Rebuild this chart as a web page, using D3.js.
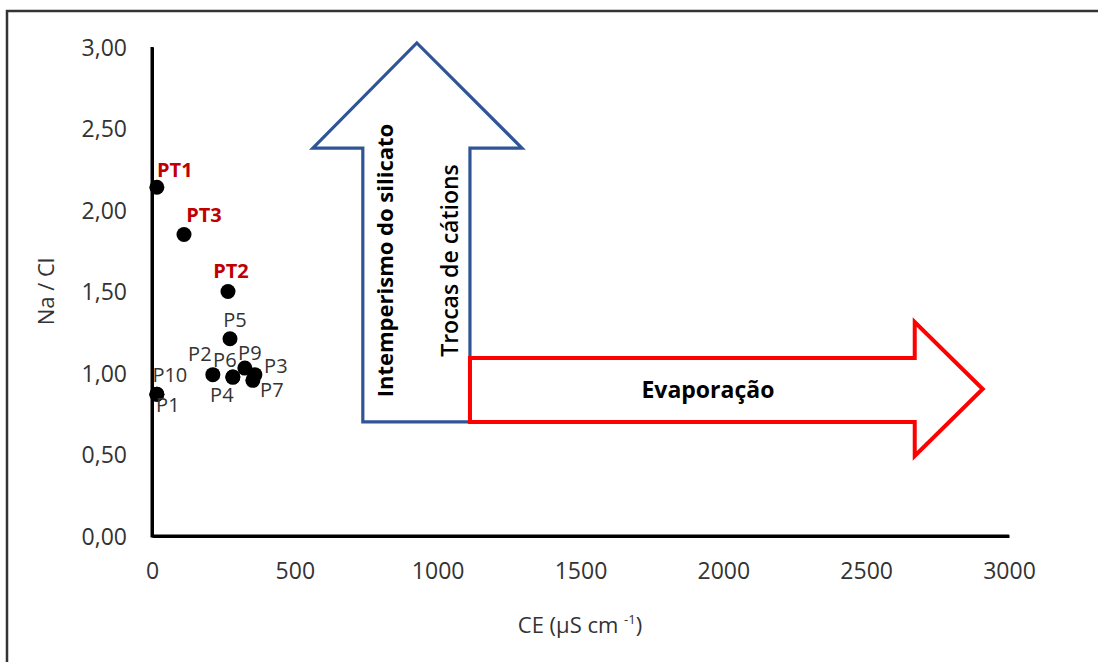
<!DOCTYPE html>
<html>
<head>
<meta charset="utf-8">
<script src="https://cdn.jsdelivr.net/npm/d3@7/dist/d3.min.js"></script>
<style>
  html, body { margin: 0; padding: 0; background: #fff; }
  svg text { font-family: "Open Sans", "Noto Sans", sans-serif; }
</style>
</head>
<body>
<svg id="chart" width="1098" height="662"></svg>
<script>
// ---- data ----
const pointNames = ["PT1", "PT3", "PT2", "P5", "P2", "P6", "P4", "P9", "P3", "P7", "P10", "P1"];
const ceValues   = [17, 112, 266, 273, 213, 283, 283, 325, 360, 353, 17, 17];
const naClValues = [2.14, 1.85, 1.50, 1.21, 0.99, 0.975, 0.975, 1.03, 0.99, 0.955, 0.87, 0.87];
const highlighted = ["PT1", "PT2", "PT3"];
const xTicks = [0, 500, 1000, 1500, 2000, 2500, 3000];
const yTicks = [0, 0.5, 1, 1.5, 2, 2.5, 3];
const annotationTexts = ["Intemperismo do silicato", "Trocas de cátions", "Evaporação"];

// ---- layout ----
const svg = d3.select("#chart");
const x = d3.scaleLinear().domain([0, 3000]).range([152, 1009]);
const y = d3.scaleLinear().domain([0, 3]).range([536, 47]);

// label offsets (px) relative to the point: [dx to text centre, dy to baseline]
const labelOffset = {
  PT1: [18, -10], PT3: [20, -12], PT2: [3, -14], P5: [5, -12],
  P2: [-13, -14], P6: [-8, -10], P4: [-11, 25], P9: [5, -8],
  P3: [21, -2], P7: [19, 17], P10: [13, -12], P1: [11, 18]
};

// outer frame (only left and top edges visible)
svg.append("rect").attr("x", 7).attr("y", 11).attr("width", 1200).attr("height", 800)
  .attr("fill", "none").attr("stroke", "#333").attr("stroke-width", 2.5);

// axes
const xAxis = d3.axisBottom(x).tickValues(xTicks).tickSize(0).tickPadding(43).tickFormat(d3.format("d"));
const gx = svg.append("g").attr("transform", `translate(0,${y(0)})`).call(xAxis);
const fmtY = d => d3.format(".2f")(d).replace(".", ",");
const yAxis = d3.axisLeft(y).tickValues(yTicks).tickSize(0).tickPadding(25).tickFormat(fmtY);
const gy = svg.append("g").attr("transform", `translate(${x(0)},0)`).call(yAxis);
[gx, gy].forEach(g => {
  g.select(".domain").attr("stroke", "#000").attr("stroke-width", 3);
  g.selectAll("text").attr("font-size", 23).attr("fill", "#333")
    .attr("font-family", '"Open Sans", sans-serif');
});
gx.selectAll("text").attr("dy", "0em");
gy.selectAll("text").attr("dy", "0.35em");
// join axes at corner
svg.append("path").attr("d", `M${x(0)},${y(3)}V${y(0)}H${x(3000)}`)
  .attr("fill", "none").attr("stroke", "#000").attr("stroke-width", 3);

// axis titles
svg.append("text").attr("transform", `translate(46,${y(1.5)}) rotate(-90)`)
  .attr("text-anchor", "middle").attr("dy", "0.35em").attr("font-size", 22).attr("fill", "#333").text("Na / Cl");
const xt = svg.append("text").attr("x", 580).attr("y", 633).attr("text-anchor", "middle")
  .attr("font-size", 22).attr("fill", "#333");
xt.append("tspan").text("CE (µS cm ");
xt.append("tspan").attr("font-size", 13).attr("dy", -9).text("-1");
xt.append("tspan").attr("dy", 9).text(")");

// annotation arrows (in data units)
const blueArrow = [[738, 0.70], [738, 2.38], [563, 2.38], [927, 3.025], [1295, 2.38], [1113, 2.38], [1113, 0.70]];
const redArrow = [[1113, 1.092], [2670, 1.092], [2670, 1.313], [2908, 0.902], [2670, 0.491], [2670, 0.70], [1113, 0.70]];
const line = d3.line().x(d => x(d[0])).y(d => y(d[1]));
svg.append("path").attr("d", line(blueArrow) + "Z").attr("fill", "none")
  .attr("stroke", "#2f5597").attr("stroke-width", 3.2).attr("stroke-linejoin", "miter");
svg.append("path").attr("d", line(redArrow) + "Z").attr("fill", "none")
  .attr("stroke", "#ff0000").attr("stroke-width", 4).attr("stroke-linejoin", "miter");

svg.append("text").attr("transform", `translate(${x(815)},${y(1.69)}) rotate(-90)`)
  .attr("text-anchor", "middle").attr("dy", "0.35em").attr("font-size", 22).attr("font-weight", 700)
  .attr("fill", "#000").text(annotationTexts[0]);
svg.append("text").attr("transform", `translate(${x(1043)},${y(1.69)}) rotate(-90)`)
  .attr("text-anchor", "middle").attr("dy", "0.35em").attr("font-size", 23).attr("font-weight", 600)
  .attr("fill", "#000").text(annotationTexts[1]);
svg.append("text").attr("x", x(1946)).attr("y", y(0.896)).attr("dy", "0.35em")
  .attr("text-anchor", "middle").attr("font-size", 23).attr("font-weight", 700)
  .attr("fill", "#000").text(annotationTexts[2]);

// points
const pts = pointNames.map((n, i) => ({ name: n, ce: ceValues[i], r: naClValues[i] }));
svg.append("g").selectAll("circle").data(pts).join("circle")
  .attr("cx", d => x(d.ce)).attr("cy", d => y(d.r)).attr("r", 7.5).attr("fill", "#000");

svg.append("g").selectAll("text").data(pts).join("text")
  .attr("x", d => x(d.ce) + labelOffset[d.name][0])
  .attr("y", d => y(d.r) + labelOffset[d.name][1])
  .attr("text-anchor", "middle")
  .attr("font-size", 20)
  .attr("font-weight", d => highlighted.includes(d.name) ? 700 : 400)
  .attr("fill", d => highlighted.includes(d.name) ? "#c00000" : "#333")
  .text(d => d.name);
</script>
</body>
</html>
